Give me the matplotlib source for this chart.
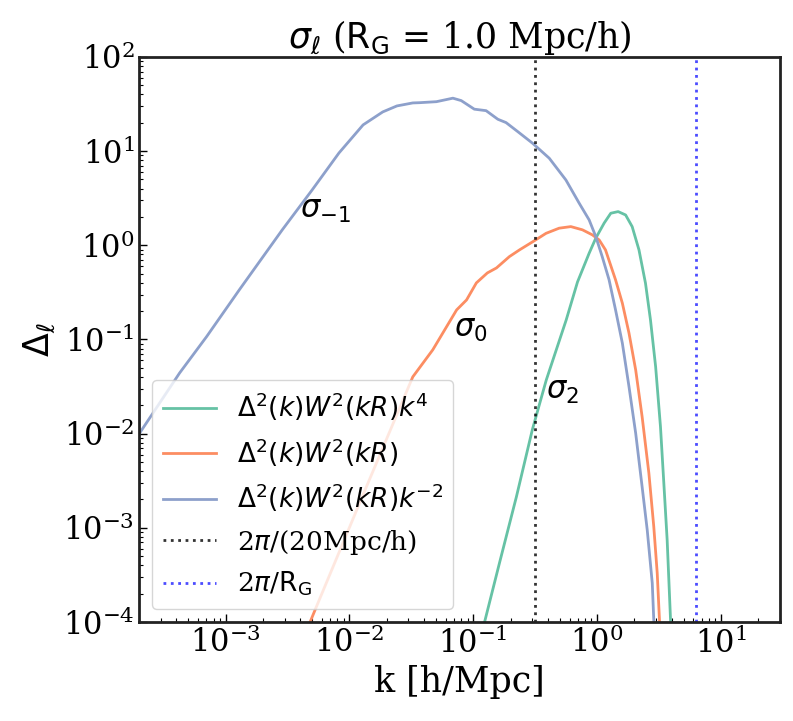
import numpy as np
import matplotlib
matplotlib.use("Agg")
import matplotlib.pyplot as plt

# values (k in h/Mpc)
k_m1 = [2.03e-4, 4.26e-4, 7.02e-4, 1.29e-3, 2.87e-3, 5.00e-3, 8.24e-3, 1.29e-2,
        1.86e-2, 2.42e-2, 3.25e-2, 3.70e-2, 5.04e-2, 6.85e-2, 8.00e-2, 0.102,
        0.127, 0.158, 0.184, 0.229, 0.302, 0.411, 0.560, 0.717, 0.863, 0.976,
        1.10, 1.25, 1.41, 1.60, 1.81, 2.05, 2.31, 2.54, 2.79, 2.87, 2.93]
d_m1 = [1.02e-2, 4.42e-2, 0.107, 0.336, 1.46, 3.87, 9.57, 19.0,
        26.1, 30.2, 32.5, 32.7, 33.5, 36.5, 34.4, 27.9,
        26.9, 21.8, 20.1, 16.1, 12.1, 8.41, 4.94, 2.80, 1.86, 1.24,
        0.759, 0.430, 0.206, 9.14e-2, 3.16e-2, 1.01e-2, 2.74e-3, 9.53e-4, 2.59e-4,
        1.05e-4, 6.5e-5]

k_0 = [4.40e-3, 5.29e-3, 1.31e-2, 3.25e-2, 4.71e-2, 7.34e-2, 8.83e-2, 0.106,
       0.130, 0.154, 0.196, 0.236, 0.302, 0.387, 0.494, 0.614, 0.762, 0.917,
       1.04, 1.17, 1.41, 1.60, 1.81, 2.05, 2.31, 2.62, 2.87, 3.06, 3.19, 3.24]
d_0 = [7.5e-5, 1.35e-4, 2.36e-3, 4.01e-2, 7.76e-2, 0.206, 0.263, 0.399,
       0.509, 0.575, 0.759, 0.893, 1.09, 1.34, 1.52, 1.58, 1.46, 1.29,
       1.14, 0.893, 0.430, 0.243, 0.117, 4.75e-2, 1.52e-2, 3.81e-3, 1.03e-3,
       3.30e-4, 1.05e-4, 6.5e-5]

k_2 = [0.119, 0.123, 0.163, 0.223, 0.300, 0.389, 0.563, 0.695, 0.863, 0.976,
       1.14, 1.29, 1.48, 1.70, 1.92, 2.18, 2.46, 2.70, 2.97, 3.25, 3.46, 3.68,
       3.92, 3.97]
d_2 = [7.9e-5, 9.8e-5, 4.25e-4, 2.13e-3, 1.10e-2, 3.72e-2, 0.161, 0.408, 0.824, 1.19,
       1.72, 2.19, 2.28, 2.10, 1.58, 0.893, 0.396, 0.161, 5.15e-2, 1.19e-2, 2.98e-3,
       7.46e-4, 1.05e-4, 6.5e-5]

R_G = 1.0
k_box = 2 * np.pi / 20.0
k_RG = 2 * np.pi / R_G

plt.rcParams["font.family"] = "DejaVu Serif"
plt.rcParams["mathtext.fontset"] = "dejavusans"

fig = plt.figure(figsize=(7.93, 7.21), dpi=100)
ax = fig.add_axes([0.1753, 0.1373, 0.8083, 0.7837])

ax.plot(k_2, d_2, color="#66c2a5", lw=2, label=r"$\Delta^2(k)W^2(kR)k^4$")
ax.plot(k_0, d_0, color="#fc8d62", lw=2, label=r"$\Delta^2(k)W^2(kR)$")
ax.plot(k_m1, d_m1, color="#8da0cb", lw=2, label=r"$\Delta^2(k)W^2(kR)k^{-2}$")
ax.axvline(k_box, color="k", ls=":", lw=2, alpha=0.8, label=r"2$\pi$/(20Mpc/h)")
ax.axvline(k_RG, color="b", ls=":", lw=2, alpha=0.7, label=r"2$\pi$/$\mathrm{R_G}$")

ax.text(4e-3, 2.4, r"$\sigma_{-1}$", fontsize=22, va="center")
ax.text(7.0e-2, 0.13, r"$\sigma_0$", fontsize=22, va="center")
ax.text(0.39, 0.029, r"$\sigma_2$", fontsize=22, va="center")

ax.set_xscale("log")
ax.set_yscale("log")
ax.set_xlim(2e-4, 30)
ax.set_ylim(1e-4, 1e2)

ax.set_title(r"$\sigma_\ell$ ($\mathrm{R_G}$ = 1.0 Mpc/h)", fontsize=25)
ax.set_xlabel("k [h/Mpc]", fontsize=25)
ax.set_ylabel(r"$\Delta_\ell$", fontsize=25)

for s in ax.spines.values():
    s.set_linewidth(2)
    s.set_color("#222222")
ax.tick_params(which="both", direction="in", top=False, right=False, labelsize=22)
ax.tick_params(which="major", length=6, width=1)
ax.tick_params(which="minor", length=3, width=0.8)

ax.legend(loc="lower left", fontsize=19)

fig.savefig("out.png", dpi=100)
